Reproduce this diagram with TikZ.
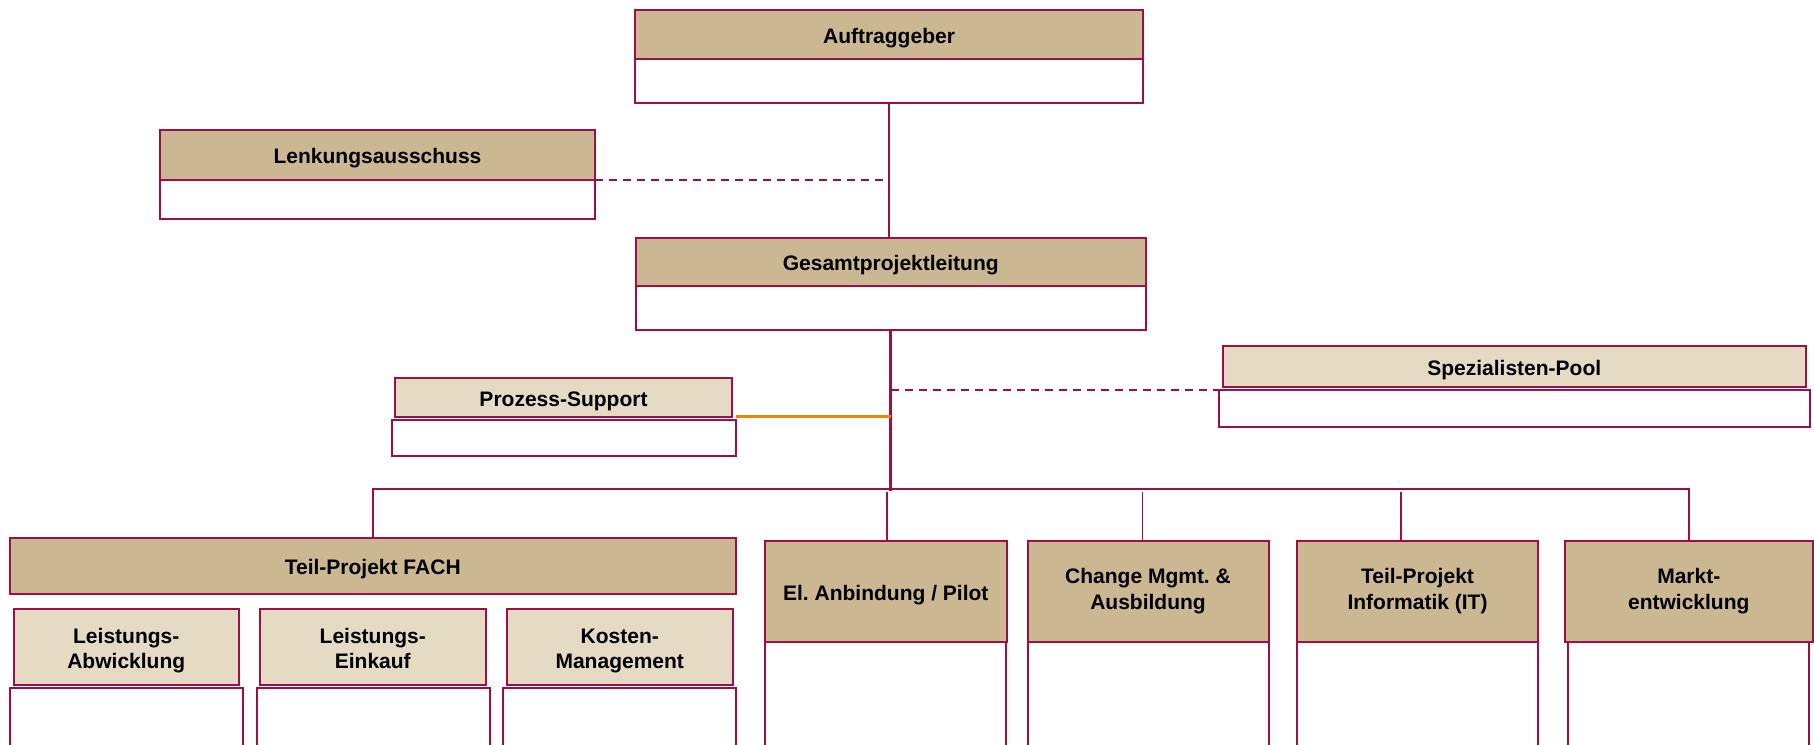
\documentclass[tikz,border=0pt]{standalone}
\usepackage{fontspec}
\setmainfont{Liberation Sans}
\definecolor{weinrot}{RGB}{160,14,72}
\definecolor{sand}{RGB}{203,184,146}
\definecolor{sandhell}{RGB}{229,219,197}
\definecolor{linieorange}{RGB}{240,131,0}
\newcommand{\kopfstrut}{\rule[-5pt]{0pt}{28pt}}
\newcommand{\unterstrut}{\rule{0pt}{24pt}}
\begin{document}
\frenchspacing
\begin{tikzpicture}[x=1pt,y=-1pt,
    box/.style={draw=weinrot, line width=2pt, inner sep=0pt, outer sep=0pt, align=center,
      font=\fontsize{21}{24.5}\selectfont\bfseries, execute at begin node=\kopfstrut},
    kopf/.style={box, fill=sand},
    kopfhell/.style={box, fill=sandhell},
    feld/.style={box, fill=white},
    weit/.style={font=\fontsize{21}{26}\selectfont\bfseries},
    linie/.style={draw=weinrot, line width=1.6pt},
    strich/.style={draw=weinrot, line width=2pt, dash pattern=on 8pt off 6pt}]
    \useasboundingbox (0,0) rectangle (1814,744);
    \clip (0,0) rectangle (1814,744);
    % Leitung
    \node[kopf, minimum width=508pt, minimum height=49pt] (auftrag) at (889,34.5) {Auftraggeber};
    \node[feld, anchor=north, minimum width=508pt, minimum height=44pt] (auftragF) at (auftrag.south) {};
    \node[kopf, minimum width=435pt, minimum height=49.5pt] (lenk) at (377.5,154.75) {Lenkungsausschuss};
    \node[feld, anchor=north, minimum width=435pt, minimum height=39.5pt] (lenkF) at (lenk.south) {};
    \node[kopf, minimum width=509.5pt, minimum height=47.5pt] (gesamt) at (890.75,261.75) {Gesamtprojektleitung};
    \node[feld, anchor=north, minimum width=509.5pt, minimum height=44pt] (gesamtF) at (gesamt.south) {};
    % Stab
    \node[kopfhell, minimum width=337pt, minimum height=38.5pt] (prozess) at (563.5,397.25) {Prozess-Support};
    \node[feld, minimum width=344pt, minimum height=36pt] (prozessF) at (564,438) {};
    \node[kopfhell, minimum width=583.5pt, minimum height=41.5pt] (spezial) at (1514.25,366.25) {Spezialisten-Pool};
    \node[feld, minimum width=591pt, minimum height=36.5pt] (spezialF) at (1514.5,408.25) {};
    % Teilprojekte
    \node[kopf, minimum width=726.5pt, minimum height=56.5pt] (fach) at (372.75,565.75) {Teil-Projekt FACH};
    \node[kopfhell, minimum width=225.5pt, minimum height=76pt] (abw) at (126.25,646.5) {\unterstrut Leistungs-\\Abwicklung};
    \node[kopfhell, minimum width=226.5pt, minimum height=76pt] (eink) at (372.75,646.5) {\unterstrut Leistungs-\\Einkauf};
    \node[kopfhell, minimum width=225.5pt, minimum height=76pt] (kosten) at (619.75,646.5) {\unterstrut Kosten-\\Management};
    \node[feld, minimum width=233pt, minimum height=80pt] (abwF) at (126,728) {};
    \node[feld, minimum width=233pt, minimum height=80pt] (einkF) at (373,728) {};
    \node[feld, minimum width=233pt, minimum height=80pt] (kostenF) at (619.5,728) {};
    \node[kopf, minimum width=241.5pt, minimum height=101.5pt] (pilot) at (885.75,591.25) {El. Anbindung / Pilot};
    \node[kopf, weit, minimum width=241pt, minimum height=101.5pt] (change) at (1148,591.25) {Change Mgmt. \&\\Ausbildung};
    \node[kopf, weit, minimum width=241pt, minimum height=101.5pt] (it) at (1417.5,591.25) {Teil-Projekt\\Informatik (IT)};
    \node[kopf, weit, minimum width=247.5pt, minimum height=101.5pt] (markt) at (1688.75,591.25) {Markt-\\entwicklung};
    \foreach \n in {pilot,change,it,markt}
      \node[feld, anchor=north, minimum width=241pt, minimum height=120pt] (\n F) at (\n.south) {};
    % Linien
    \coordinate (bus) at (891.3,488.7);
    \draw[linie] (auftragF.south) -- (auftragF.south |- gesamt.north);
    \draw[strich] (lenk.south east) -- (lenk.south east -| auftragF.south);
    \draw[weinrot, line width=3pt, shorten >=-2pt] (gesamtF.south) -- (gesamtF.south |- bus);
    \draw[strich] (spezialF.north west -| bus) -- (spezialF.north west);
    \draw[linieorange, line width=2.6pt] (prozessF.east |- prozess.south) -- (prozess.south -| bus);
    \draw[linie] (fach.north) -- (fach.north |- bus) -| (markt.north);
    \foreach \ort/\ziel in {887/pilot,1142.7/change,1401/it}
      \draw[linie, line width=1.2pt] (\ort,492) coordinate (ab) -- (ab |- \ziel.north);
\end{tikzpicture}
\end{document}
